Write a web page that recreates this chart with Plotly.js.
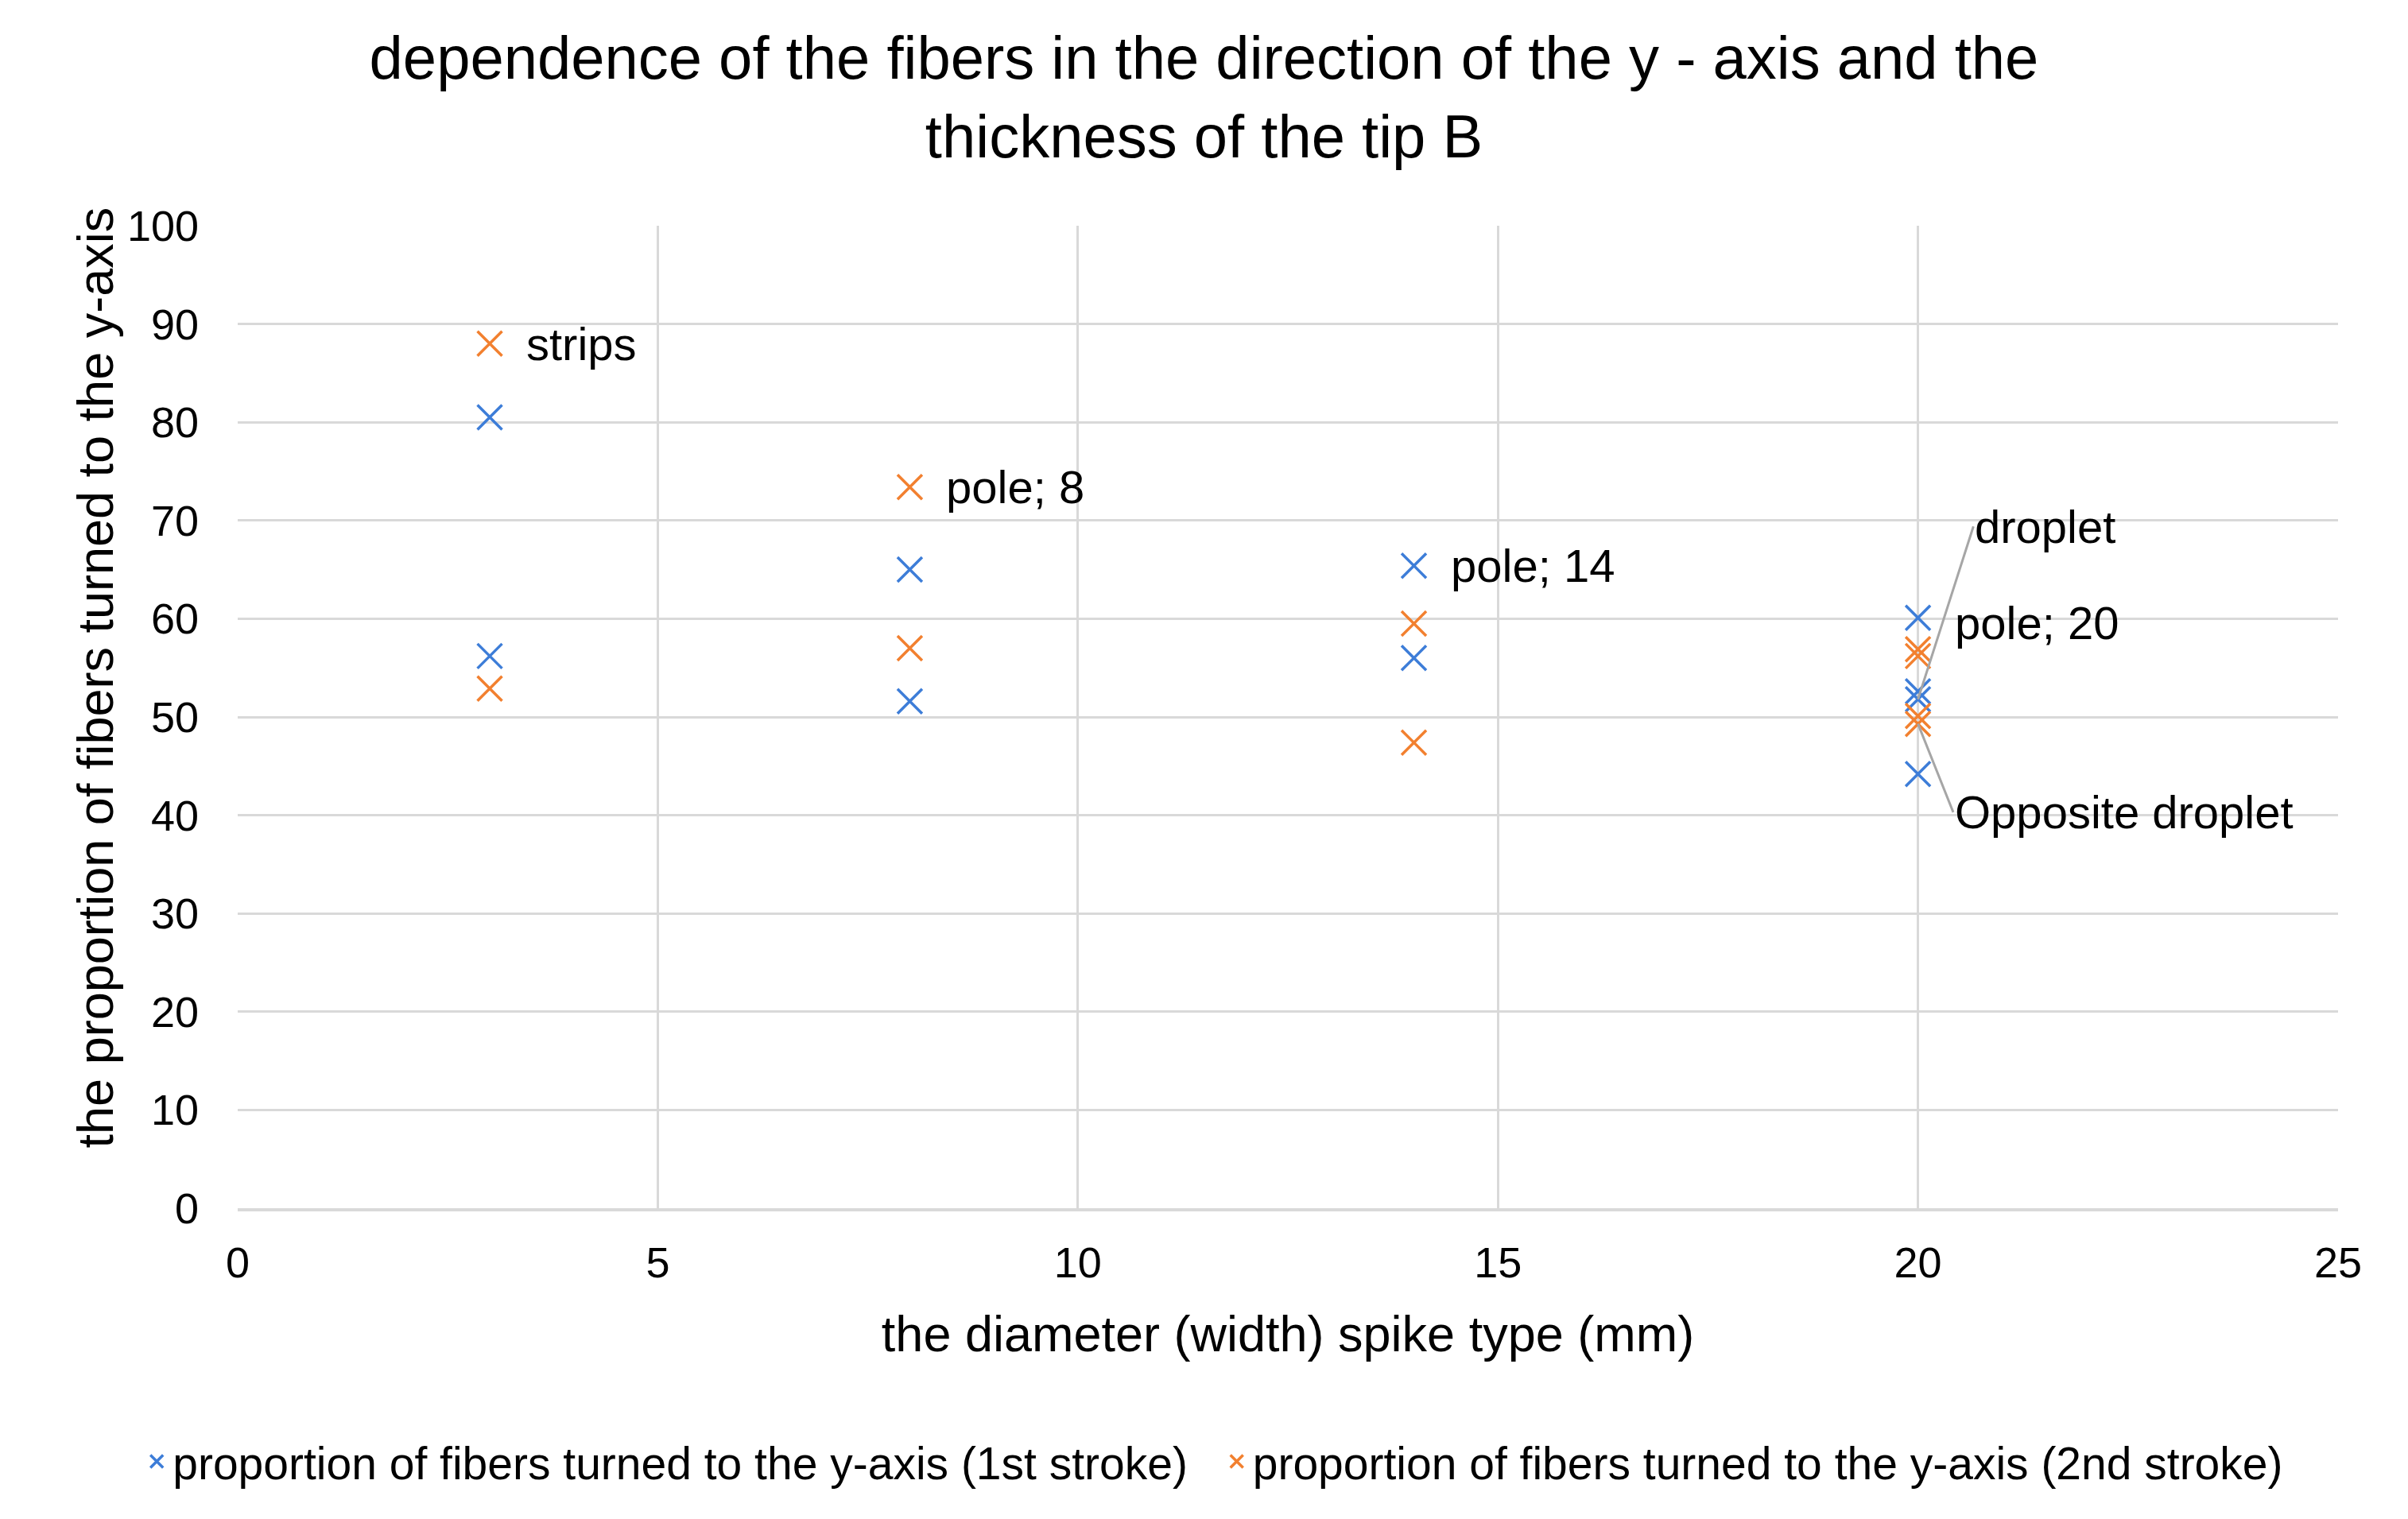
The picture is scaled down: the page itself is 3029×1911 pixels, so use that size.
<!DOCTYPE html>
<html>
<head>
<meta charset="utf-8">
<script src="https://cdn.plot.ly/plotly-3.0.1.min.js"></script>
<style>html,body{margin:0;padding:0;background:#fff;}#chart{width:3029px;height:1911px;}</style>
</head>
<body>
<div id="chart"></div>
<script>
// Data
const diameter1 = [3, 3, 8, 8, 14, 14, 20, 20, 20, 20];
const stroke1   = [80.5, 56.2, 65.0, 51.6, 65.4, 56.0, 60.1, 52.6, 51.8, 44.2];
const diameter2 = [3, 3, 8, 8, 14, 14, 20, 20, 20, 20];
const stroke2   = [88.0, 52.9, 73.4, 57.0, 59.5, 47.4, 56.9, 56.2, 50.1, 49.3];
const seriesNames = ['proportion of fibers turned to the y-axis (1st stroke)',
                     'proportion of fibers turned to the y-axis (2nd stroke)'];
// Data labels: [series index, point index, text]
const pointLabels = [[1, 0, 'strips'], [1, 2, 'pole; 8'], [0, 4, 'pole; 14'], [0, 6, 'pole; 20']];
// Leader-line labels: [series index, point index, text, label x, label y]
const leaderLabels = [[0, 8, 'droplet', 20.66, 69.4], [1, 9, 'Opposite droplet', 20.42, 40.3]];
const xTicks = [0, 5, 10, 15, 20, 25];
const yTicks = [0, 10, 20, 30, 40, 50, 60, 70, 80, 90, 100];
const yAxisTitle = 'the proportion of fibers turned to the y-axis';

const FONT = 'Liberation Sans, Arial, sans-serif';
const colors = ['#3D7DD8', '#F2802F'];
const xs = [diameter1, diameter2], ys = [stroke1, stroke2];
const legendIds = ['legend', 'legend2'];

const traces = [0, 1].map(i => ({
  type: 'scatter', mode: 'markers', name: seriesNames[i],
  x: xs[i], y: ys[i], legend: legendIds[i],
  marker: {symbol: 'x-thin-open', size: 31, color: colors[i], line: {color: colors[i], width: 3.5}},
  cliponaxis: false
}));

const annotations = pointLabels.map(([s, p, t]) => ({
  x: xs[s][p], y: ys[s][p], xref: 'x', yref: 'y', text: t, showarrow: false,
  xanchor: 'left', yanchor: 'middle', xshift: 44, yshift: (t === 'pole; 20' ? -6 : 0),
  font: {family: FONT, size: 58, color: '#000'}
})).concat(leaderLabels.map(([s, p, t, lx, ly]) => ({
  x: xs[s][p], y: ys[s][p], xref: 'x', yref: 'y', text: t, showarrow: true,
  axref: 'x', ayref: 'y', ax: lx, ay: ly, arrowhead: 0, arrowwidth: 3, arrowcolor: '#A6A6A6',
  xanchor: 'left', yanchor: 'middle', standoff: 0,
  font: {family: FONT, size: 58, color: '#000'}
}))).concat([{
  // y-axis title (drawn as rotated text beside the axis)
  text: yAxisTitle, xref: 'paper', yref: 'paper', x: -0.0678, y: 0.54,
  xanchor: 'center', yanchor: 'middle', textangle: -90, showarrow: false,
  font: {family: FONT, size: 63, color: '#000'}
}]);

const legendBase = {
  orientation: 'h', xref: 'container', xanchor: 'left', y: -0.258, yanchor: 'middle',
  font: {family: FONT, size: 57, color: '#000'}, itemwidth: 30, bgcolor: 'rgba(0,0,0,0)'
};

const layout = {
  width: 3029, height: 1911,
  paper_bgcolor: '#fff', plot_bgcolor: '#fff',
  margin: {l: 299, r: 88, t: 284, b: 391, autoexpand: false},
  font: {family: FONT, color: '#000'},
  title: {
    text: 'dependence of the fibers in the direction of the y - axis and the<br>thickness of the tip B',
    font: {family: FONT, size: 76, color: '#000'},
    x: 0.5, xanchor: 'center', xref: 'container', y: 0.948, yanchor: 'top'
  },
  xaxis: {
    range: [0, 25], tickvals: xTicks, ticktext: xTicks.map(String),
    showgrid: true, gridcolor: '#D9D9D9', gridwidth: 3,
    zeroline: false, showline: true, linecolor: '#D9D9D9', linewidth: 4, mirror: false,
    ticks: '', ticklabelstandoff: 18, automargin: true,
    tickfont: {family: FONT, size: 54, color: '#000'},
    title: {text: 'the diameter (width) spike type (mm)', font: {family: FONT, size: 63, color: '#000'}, standoff: 40}
  },
  yaxis: {
    range: [0, 100], tickvals: yTicks, ticktext: yTicks.map(String),
    showgrid: true, gridcolor: '#D9D9D9', gridwidth: 3,
    zeroline: false, showline: false,
    ticks: '', ticklabelstandoff: 48, automargin: false,
    tickfont: {family: FONT, size: 54, color: '#000'}
  },
  showlegend: true,
  legend: Object.assign({}, legendBase, {x: 0.0585}),
  legend2: Object.assign({}, legendBase, {x: 0.507}),
  annotations: annotations
};

Plotly.newPlot('chart', traces, layout, {staticPlot: true, displayModeBar: false});
</script>
</body>
</html>
